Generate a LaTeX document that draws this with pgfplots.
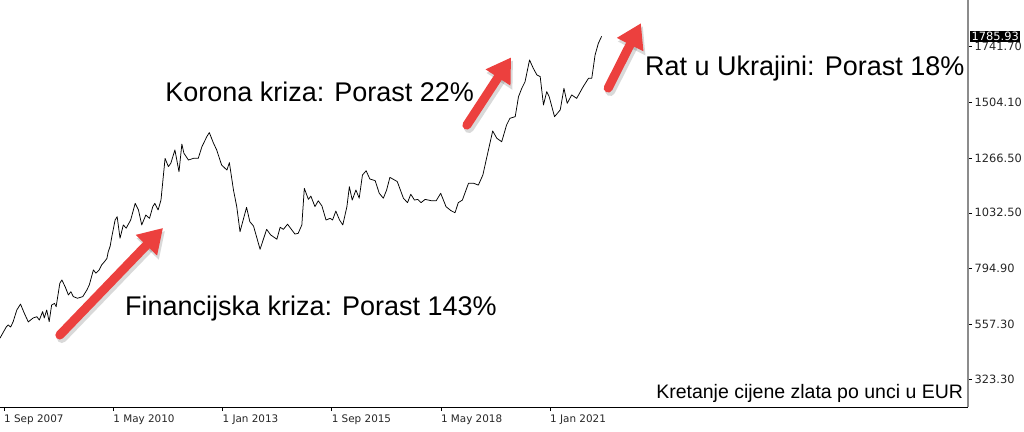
\documentclass[border=0pt]{standalone}
\usepackage{pgfplots}
\pgfplotsset{compat=1.18}
\usepackage{pgfplotstable}
\usepackage{fontspec}
\setmainfont{Liberation Sans}
\newfontfamily\dejavu{DejaVu Sans}
\usetikzlibrary{arrows.meta}
\definecolor{arrowred}{RGB}{236,64,62}

% gold price in EUR per ounce (decimal year, price)
\pgfplotstableread{
year price
2007.57 498
2007.72 545
2007.77 554
2007.83 545
2007.89 568
2007.98 618
2008.07 643
2008.16 605
2008.26 567
2008.38 584
2008.47 589
2008.53 575
2008.61 611
2008.65 584
2008.71 618
2008.77 568
2008.83 639
2008.90 646
2008.94 632
2009.03 732
2009.08 746
2009.16 717
2009.24 682
2009.30 696
2009.36 675
2009.46 668
2009.59 675
2009.69 703
2009.75 725
2009.85 789
2009.91 775
2009.99 789
2010.05 810
2010.12 824
2010.18 838
2010.21 865
2010.26 891
2010.30 931
2010.38 1002
2010.43 1016
2010.50 924
2010.58 981
2010.65 967
2010.76 1002
2010.87 1073
2010.95 1045
2011.03 981
2011.13 1023
2011.22 1009
2011.30 1059
2011.35 1073
2011.43 1045
2011.50 1087
2011.56 1194
2011.60 1265
2011.68 1230
2011.74 1244
2011.84 1301
2011.94 1208
2012.01 1326
2012.06 1287
2012.17 1258
2012.29 1265
2012.41 1265
2012.50 1315
2012.62 1358
2012.68 1375
2012.78 1331
2012.86 1301
2012.98 1237
2013.11 1215
2013.17 1247
2013.27 1130
2013.35 1059
2013.43 952
2013.59 1056
2013.67 995
2013.76 976
2013.92 877
2014.08 962
2014.18 938
2014.33 920
2014.41 971
2014.49 962
2014.59 984
2014.77 942
2014.85 945
2014.94 981
2015.00 1137
2015.10 1090
2015.16 1104
2015.26 1059
2015.34 1084
2015.43 1062
2015.53 1002
2015.63 1009
2015.69 1002
2015.77 1040
2015.86 1002
2015.94 981
2016.04 1059
2016.10 1144
2016.17 1087
2016.26 1130
2016.34 1095
2016.42 1194
2016.51 1212
2016.60 1177
2016.73 1170
2016.83 1116
2016.93 1095
2017.01 1130
2017.09 1184
2017.27 1166
2017.42 1095
2017.52 1076
2017.60 1112
2017.69 1087
2017.77 1090
2017.85 1076
2017.95 1090
2018.11 1084
2018.22 1084
2018.33 1116
2018.46 1059
2018.58 1042
2018.68 1033
2018.76 1076
2018.86 1087
2019.01 1159
2019.13 1159
2019.25 1151
2019.36 1194
2019.45 1265
2019.60 1382
2019.70 1351
2019.82 1336
2019.94 1408
2020.02 1436
2020.15 1443
2020.23 1528
2020.31 1564
2020.39 1592
2020.50 1685
2020.59 1650
2020.68 1621
2020.76 1614
2020.84 1493
2020.92 1550
2020.98 1528
2021.11 1443
2021.25 1472
2021.34 1564
2021.42 1500
2021.53 1536
2021.65 1521
2021.81 1571
2021.94 1607
2022.02 1607
2022.10 1706
2022.18 1756
2022.26 1785.93
}\goldeur

\tikzset{
  bigarrow/.style={arrowred, line width=9pt, line cap=round,
    -{Triangle[length=24pt, width=28pt]}},
  bigshadow/.style={black, opacity=0.15, line width=10pt, line cap=round,
    -{Triangle[length=25pt, width=29pt]}, transform canvas={xshift=2pt, yshift=-3pt}},
}

\begin{document}
\begin{tikzpicture}
\path[use as bounding box] (0pt,-24pt) rectangle (1024pt,407pt);
\begin{axis}[
    at={(0pt,0pt)}, anchor=south west,
    width=968pt, height=407pt, scale only axis,
    clip=false,
    xmin=2007.569, xmax=2031.207,
    ymin=203.8, ymax=1941,
    axis x line*=bottom, axis y line*=right,
    axis line style={-},
    x axis line style={black, line width=0.8pt},
    y axis line style={black!45, line width=1.2pt},
    tick align=outside,
    major tick length=4pt,
    tick style={black, line width=0.6pt},
    xtick={2007.667,2010.333,2013,2015.667,2018.333,2021},
    xticklabels={1 Sep 2007,1 May 2010,1 Jan 2013,1 Sep 2015,1 May 2018,1 Jan 2021},
    xticklabel style={font=\dejavu\fontsize{10.4}{12}\selectfont, anchor=north west,
        inner sep=0pt, xshift=0pt, yshift=-4pt, text=black!85},
    ytick={323.3,557.3,794.9,1032.5,1266.5,1504.1,1741.7},
    yticklabels={323.30,557.30,794.90,1032.50,1266.50,1504.10,1741.70},
    yticklabel style={font=\dejavu\fontsize{11.4}{13}\selectfont, anchor=west,
        inner sep=0pt, xshift=2.5pt, text=black!85},
]
\addplot[black, line width=0.75pt, line join=round] table[x=year, y=price] {\goldeur};

% arrows with a soft shadow
\draw[bigshadow] (axis cs:2009.03,511) -- (axis cs:2011.55,968);
\draw[bigarrow]  (axis cs:2009.03,511) -- (axis cs:2011.55,968);
\draw[bigshadow] (axis cs:2018.97,1407) -- (axis cs:2020.05,1696);
\draw[bigarrow]  (axis cs:2018.97,1407) -- (axis cs:2020.05,1696);
\draw[bigshadow] (axis cs:2022.42,1565) -- (axis cs:2023.22,1842);
\draw[bigarrow]  (axis cs:2022.42,1565) -- (axis cs:2023.22,1842);

\node[anchor=base west, inner sep=0pt, font=\fontsize{27}{30}\selectfont]
  at (axis cs:2010.62,594) {Financijska kriza: Porast 143\%};
\node[anchor=base west, inner sep=0pt, font=\fontsize{27}{30}\selectfont]
  at (axis cs:2011.60,1506) {Korona kriza: Porast 22\%};
\node[anchor=base west, inner sep=0pt, font=\fontsize{27}{30}\selectfont]
  at (axis cs:2023.32,1617) {Rat u Ukrajini: Porast 18\%};
\node[anchor=base east, inner sep=0pt, font=\fontsize{19.5}{22}\selectfont]
  at (axis cs:2031.09,242) {Kretanje cijene zlata po unci u EUR};

% current price marker on the price scale
\node[anchor=west, fill=black, text=white, inner xsep=1.5pt, inner ysep=1.5pt,
      font=\dejavu\fontsize{11.4}{13}\selectfont]
  at ([xshift=2pt]axis cs:2031.207,1785.93) {1785.93};
\end{axis}
\end{tikzpicture}
\end{document}
